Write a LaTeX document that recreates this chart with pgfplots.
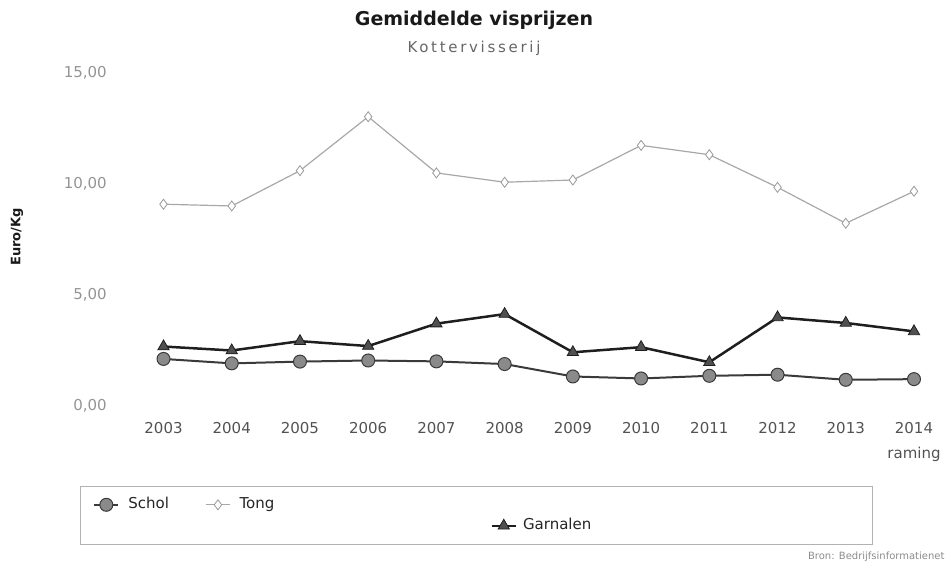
\documentclass[border=0pt]{standalone}
\usepackage{pgfplots}
\pgfplotsset{compat=1.18}
\usepackage{fontspec}
\setmainfont{DejaVu Sans}
\definecolor{ticklab}{HTML}{666666}
\definecolor{scholline}{HTML}{3A3A3A}
\definecolor{scholfill}{HTML}{8A8A8A}
\definecolor{tongline}{HTML}{A8A8A8}
\definecolor{garnline}{HTML}{1E1E1E}
\definecolor{garnfill}{HTML}{505050}
\begin{document}
\begin{tikzpicture}
\useasboundingbox (0pt,0pt) rectangle (950pt,-564pt);
\begin{axis}[
  at={(129.4pt,-406pt)}, anchor=south west,
  scale only axis, width=818.7pt, height=333pt,
  xmin=-0.5, xmax=11.5, ymin=0, ymax=15,
  axis lines=left, axis line style={draw=none}, major tick style={draw=none},
  clip=false,
  xtick={0,1,2,3,4,5,6,7,8,9,10,11},
  xticklabels={2003,2004,2005,2006,2007,2008,2009,2010,2011,2012,2013,{2014\\raming}},
  xticklabel style={align=center, font=\fontsize{15}{25}\selectfont, text=ticklab!80!black, yshift=-11pt},
  ytick={0,5,10,15},
  yticklabel style={font=\fontsize{15}{18}\selectfont, text=ticklab!70!white, xshift=-17pt},
  /pgf/number format/.cd, use comma, fixed, fixed zerofill, precision=2, assume math mode=true,
  /pgfplots/.cd,
  legend columns=4,
  legend image code/.code={\draw[mark repeat=2,mark phase=2,#1] plot coordinates {(0pt,0pt)(12pt,0pt)(24pt,0pt)};},
  legend style={at={(-0.0603,-0.2402)}, anchor=north west, draw=gray!60, line width=0.6pt,
    inner xsep=13pt, inner ysep=11pt, row sep=6pt, column sep=0pt,
    nodes={inner sep=0pt, text height=11pt, text depth=4pt},
    font=\fontsize{15}{18}\selectfont, text=black!85},
]
\addplot[color=scholline, line width=2pt, mark=*, mark size=6.5pt,
  mark options={fill=scholfill, draw=scholline, line width=1pt}]
  coordinates {(0,2.12)(1,1.92)(2,2.00)(3,2.05)(4,2.01)(5,1.89)(6,1.33)(7,1.24)(8,1.36)(9,1.41)(10,1.18)(11,1.21)};
\addlegendentry{\makebox[86pt][l]{\hspace{9pt}Schol}}
\addplot[color=tongline, line width=1.2pt, mark=diamond*, mark size=5pt,
  mark options={fill=white, draw=gray!80, line width=0.8pt}]
  coordinates {(0,9.09)(1,9.01)(2,10.60)(3,13.03)(4,10.50)(5,10.08)(6,10.18)(7,11.74)(8,11.32)(9,9.85)(10,8.23)(11,9.67)};
\addlegendentry{\makebox[86pt][l]{\hspace{9pt}Tong}}
\addlegendimage{empty legend}\addlegendentry{\makebox[174pt][l]{}}
\addlegendimage{empty legend}\addlegendentry{\makebox[342pt][l]{}}
\addlegendimage{empty legend}\addlegendentry{\makebox[86pt][l]{}}
\addlegendimage{empty legend}\addlegendentry{\makebox[86pt][l]{}}
\addlegendimage{empty legend}\addlegendentry{\makebox[174pt][l]{}}
\addplot[color=garnline, line width=2.5pt, mark=triangle*, mark size=6.5pt,
  mark options={fill=garnfill, draw=garnline, line width=0.8pt}]
  coordinates {(0,2.68)(1,2.50)(2,2.92)(3,2.70)(4,3.71)(5,4.14)(6,2.42)(7,2.65)(8,1.97)(9,3.99)(10,3.74)(11,3.36)};
\addlegendentry{\makebox[342pt][l]{\hspace{6pt}Garnalen}}
\end{axis}
\node[font=\fontsize{19}{22}\selectfont\bfseries, text=black!90] at (474pt,-20pt) {Gemiddelde visprijzen};
\node[font=\fontsize{15}{18}\selectfont\addfontfeature{LetterSpace=18}, text=black!60] at (474pt,-48pt) {Kottervisserij};
\node[font=\fontsize{13}{15}\selectfont\bfseries, rotate=90, text=black!90] at (17pt,-237pt) {Euro/Kg};
\node[font=\fontsize{10}{12}\selectfont, text=black!45, anchor=east] at (948pt,-557pt) {Bron: Bedrijfsinformatienet};
\end{tikzpicture}
\end{document}
